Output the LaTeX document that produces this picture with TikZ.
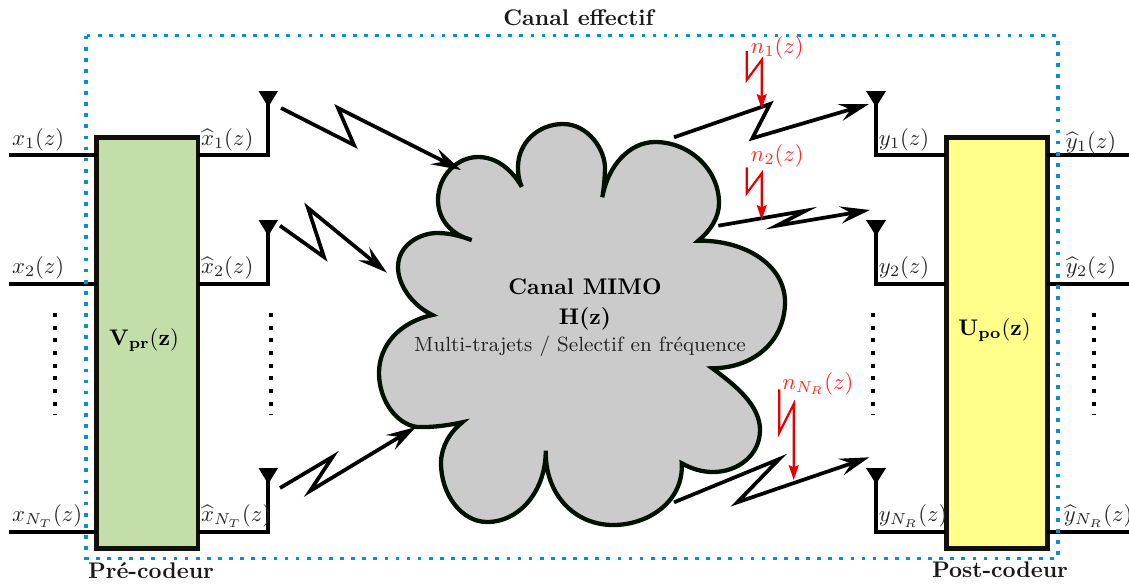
\documentclass[tikz,border=0pt]{standalone}
\usepackage{amsmath,amssymb}
\usetikzlibrary{arrows.meta}
\definecolor{boxedge}{HTML}{11110A}
\definecolor{cloudedge}{HTML}{051005}
\definecolor{cloudfill}{HTML}{CBCBCB}
\definecolor{greenfill}{HTML}{C3DEA8}
\definecolor{yellowfill}{HTML}{FFFF8A}
\definecolor{dotblue}{HTML}{0A8FCC}
\definecolor{labgray}{HTML}{222222}
\tikzset{
  x=0.4425pt,y=-0.4425pt,
  wire/.style={line width=1.65pt,black},
  antennatip/.style={fill=black},
  blockbox/.style={draw=boxedge,line width=2.1pt,minimum width=44.8pt,minimum height=181.8pt,inner sep=0pt,outer sep=0pt},
  signal/.style={line width=1.65pt,black,-{Stealth[length=13.2pt,width=7.6pt,inset=4.8pt]}},
  noise/.style={line width=0.95pt,red!90!black,-{Stealth[length=6.6pt,width=4.4pt,inset=1pt]}},
  vdots/.style={line width=1.77pt,black,dash pattern=on 1.77pt off 3.84pt},
  effective/.style={line width=1.55pt,dotblue,dash pattern=on 1.64pt off 3.27pt},
  lab/.style={anchor=base west,inner sep=0pt,text=labgray},
  noiselab/.style={anchor=base west,inner sep=0pt,text=red!85!white},
  caption/.style={inner sep=0pt,font=\bfseries,text=black!90}
}
\begin{document}
\begin{tikzpicture}
\useasboundingbox (0,0) rectangle (1129,586);
% cloud
\draw[line width=1.9pt,draw=cloudedge,fill=cloudfill,miter limit=10]
 (471.7,240) .. controls (452,235) and (438,220) .. (438,200)
 .. controls (438,175) and (458,157) .. (478,157)
 .. controls (497,157) and (512,170) .. (521.7,186.7)
 .. controls (518.5,180) and (518,173) .. (518,167)
 .. controls (518,143) and (538,124) .. (563,124)
 .. controls (588,124) and (606,150) .. (605,170)
 .. controls (604.5,180) and (604,188) .. (602.3,197.3)
 .. controls (608,165) and (630,142) .. (655,142)
 .. controls (690,142) and (719,170) .. (719,203)
 .. controls (719,218) and (710,231) .. (698.3,240.7)
 .. controls (745,240) and (785,265) .. (785,302)
 .. controls (785,340) and (755,368) .. (712.3,368.3)
 .. controls (735,385) and (760,405) .. (760,430)
 .. controls (760,455) and (738,472) .. (713,472)
 .. controls (702,472) and (692,469) .. (681.7,463.3)
 .. controls (684,500) and (650,525) .. (613,525)
 .. controls (575,525) and (545,495) .. (545.7,450.7)
 .. controls (546,490) and (520,522) .. (487,522)
 .. controls (462,522) and (441,495) .. (441,463)
 .. controls (441,447) and (450,432) .. (462.3,422.3)
 .. controls (445,426) and (430,427.5) .. (417,427)
 .. controls (396,424) and (379,400) .. (379,373)
 .. controls (379,345) and (400,322) .. (432.3,315)
 .. controls (412,305) and (398,285) .. (398,267)
 .. controls (398,245) and (420,233) .. (437,233)
 .. controls (450,233) and (460,236) .. (471.7,240) -- cycle;
\node[inner sep=0pt,font=\bfseries] (mimo) at (585,287) {Canal MIMO};
\node[inner sep=0pt,font=\bfseries] (hz) at (585,319) {H(z)};
\node[inner sep=0pt,font=\small,text=labgray,scale=1.012] (multi) at (580,346) {Multi-trajets / Selectif en fréquence};
% coordinates
\coordinate (in1) at (8.5,155); \coordinate (in2) at (8.5,284); \coordinate (in3) at (8.5,532);
\coordinate (at1) at (268,155); \coordinate (at2) at (268,284); \coordinate (at3) at (268,532);
\coordinate (ap1) at (268,100); \coordinate (ap2) at (268,229); \coordinate (ap3) at (268,477);
\coordinate (ar1) at (876,155); \coordinate (ar2) at (876,284); \coordinate (ar3) at (876,532);
\coordinate (aq1) at (876,100); \coordinate (aq2) at (876,229); \coordinate (aq3) at (876,477);
\coordinate (out1) at (1129,155); \coordinate (out2) at (1129,284); \coordinate (out3) at (1129,532);
% wires
\node[blockbox,fill=greenfill] (pre) at (147.4,342.8) {};
\node[blockbox,fill=yellowfill] (post) at (996.8,342.8) {};
\foreach \i in {1,2,3}{
  \draw[wire] (in\i) -- (pre.west |- in\i);
  \draw[wire] (pre.east |- at\i) -- (at\i) -- (ap\i);
  \draw[wire] (post.west |- ar\i) -- (ar\i) -- (aq\i);
  \draw[wire] (post.east |- out\i) -- (out\i);
}
% antennas
\fill[antennatip] (258.5,91) -- (278,91) -- (268.2,107) -- cycle;
\fill[antennatip] (258.5,220) -- (278,220) -- (268.2,236) -- cycle;
\fill[antennatip] (258.5,468) -- (278,468) -- (268.2,484) -- cycle;
\fill[antennatip] (866,91) -- (886,91) -- (876,107) -- cycle;
\fill[antennatip] (866,220) -- (886,220) -- (876,236) -- cycle;
\fill[antennatip] (866,468) -- (886,468) -- (876,484) -- cycle;
% box labels
\node[inner sep=0pt,text=black] (vpr) at (144,340) {$\mathbf{V_{pr}(z)}$};
\node[inner sep=0pt,text=black] (upo) at (994.5,330) {$\mathbf{U_{po}(z)}$};
% signal arrows
\coordinate (s1) at (281,108); \coordinate (e1) at (461,170);
\coordinate (s2) at (280,225.7); \coordinate (e2) at (387,272.7);
\coordinate (s3) at (280,488); \coordinate (e3) at (416,427);
\coordinate (s4) at (674,137.3); \coordinate (e4) at (869,104);
\coordinate (s5) at (718.3,225.7); \coordinate (e5) at (870,210);
\coordinate (s6) at (674,502.3); \coordinate (e6) at (869.3,457.3);
\draw[signal] (s1) -- (354,145) -- (338,108) -- (e1);
\draw[signal] (s2) -- (324,257) -- (308,208) -- (e2);
\draw[signal] (s3) -- (332.7,456.7) -- (310,491) -- (e3);
\draw[signal] (s4) -- (770,104) -- (752.3,138.3) -- (e4);
\draw[signal] (s5) -- (805.7,210.7) -- (776.7,225.7) -- (e5);
\draw[signal] (s6) -- (779.3,459) -- (737.3,502.3) -- (e6);
% noise arrows
\coordinate (n1s) at (746.7,51); \coordinate (n1e) at (761.7,109);
\coordinate (n2s) at (746.7,167.3); \coordinate (n2e) at (761.7,220);
\coordinate (n3s) at (779.3,389.3); \coordinate (n3e) at (793.7,480);
\draw[noise] (n1s) -- (746.7,80) -- (761.7,60) -- (n1e);
\draw[noise] (n2s) -- (746.7,193.3) -- (761.7,173.3) -- (n2e);
\draw[noise] (n3s) -- (779.3,432.7) -- (793.7,404) -- (n3e);
% vertical dots
\coordinate (d1a) at (55,313); \coordinate (d1b) at (55,414.7);
\coordinate (d2a) at (271,313); \coordinate (d2b) at (271,414.7);
\coordinate (d3a) at (872.7,313); \coordinate (d3b) at (872.7,414.7);
\coordinate (d4a) at (1094.3,313); \coordinate (d4b) at (1094.3,414.7);
\draw[vdots] (d1a) -- (d1b);
\draw[vdots] (d2a) -- (d2b);
\draw[vdots] (d3a) -- (d3b);
\draw[vdots] (d4a) -- (d4b);
% effective channel frame
\coordinate (fa) at (86,35.7); \coordinate (fb) at (1058,558.3);
\draw[effective] (fa) rectangle (fb);
% labels
\node[lab] (lx1) at (11.7,145) {$x_1(z)$};
\node[lab] (lx2) at (11.7,273.5) {$x_2(z)$};
\node[lab] (lx3) at (11.7,521.5) {$x_{N_T}(z)$};
\node[lab] (hx1) at (200.7,145) {$\widehat{x}_1(z)$};
\node[lab] (hx2) at (200.7,273.5) {$\widehat{x}_2(z)$};
\node[lab] (hx3) at (200.7,521.5) {$\widehat{x}_{N_T}(z)$};
\node[lab] (ly1) at (878.5,145) {$y_1(z)$};
\node[lab] (ly2) at (878.5,273.5) {$y_2(z)$};
\node[lab] (ly3) at (878.5,521.5) {$y_{N_R}(z)$};
\node[lab] (hy1) at (1065.5,148) {$\widehat{y}_1(z)$};
\node[lab] (hy2) at (1065.5,273.5) {$\widehat{y}_2(z)$};
\node[lab] (hy3) at (1063.5,521.5) {$\widehat{y}_{N_R}(z)$};
\node[noiselab] (ln1) at (750.5,53) {$n_1(z)$};
\node[noiselab] (ln2) at (750.5,161) {$n_2(z)$};
\node[noiselab] (ln3) at (782,389) {$n_{N_R}(z)$};
\node[caption] (eff) at (578.5,18) {Canal effectif};
\node[caption] (pc) at (151,571) {Pré-codeur};
\node[caption] (poc) at (1000,570) {Post-codeur};
\end{tikzpicture}
\end{document}
